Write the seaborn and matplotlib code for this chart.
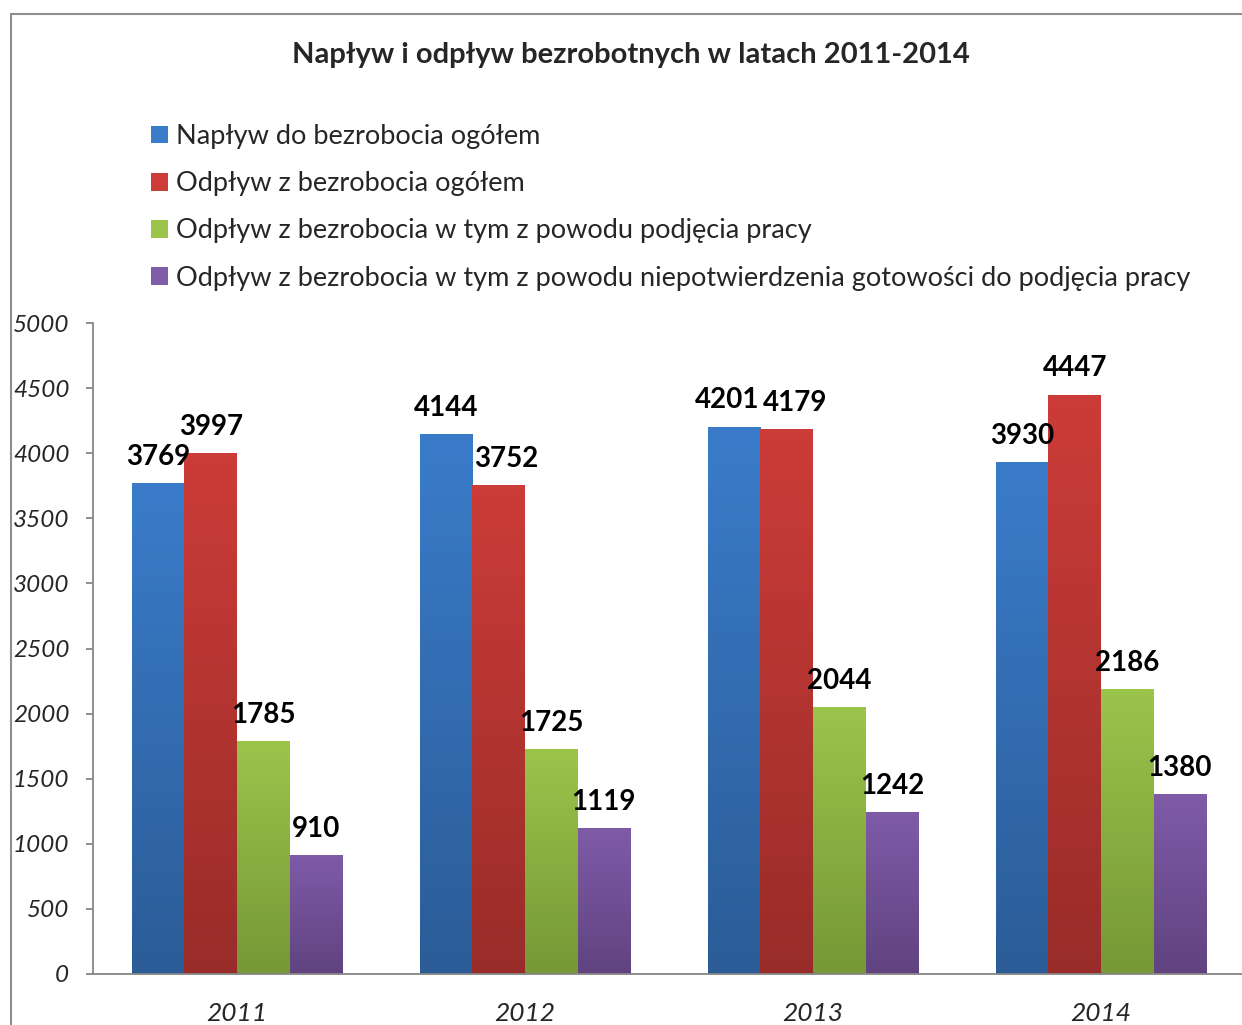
import numpy as np
import pandas as pd
import matplotlib.pyplot as plt
import seaborn as sns
from matplotlib.patches import Patch, Rectangle
from matplotlib.colors import to_rgb

years = ["2011", "2012", "2013", "2014"]
series = [
    "Napływ do bezrobocia ogółem",
    "Odpływ z bezrobocia ogółem",
    "Odpływ z bezrobocia w tym z powodu podjęcia pracy",
    "Odpływ z bezrobocia w tym z powodu niepotwierdzenia gotowości do podjęcia pracy",
]
naplyw = [3769, 4144, 4201, 3930]
odplyw = [3997, 3752, 4179, 4447]
praca = [1785, 1725, 2044, 2186]
niepotwierdzenie = [910, 1119, 1242, 1380]
y_ticks = [0, 500, 1000, 1500, 2000, 2500, 3000, 3500, 4000, 4500, 5000]
title = "Napływ i odpływ bezrobotnych w latach 2011-2014"

# gradient colours (top -> bottom), Excel style
top_colors = ["#3A7CCA", "#CC3C38", "#9BC44B", "#7F5BA8"]
bottom_colors = ["#2B5C97", "#992C29", "#769836", "#604380"]

df = pd.DataFrame({
    "rok": years * 4,
    "seria": np.repeat(series, len(years)),
    "wartosc": naplyw + odplyw + praca + niepotwierdzenie,
})

sns.set_theme(style="white")
plt.rcParams["font.family"] = ["Lato", "DejaVu Sans"]

W, H = 1242, 1025
fig = plt.figure(figsize=(W / 100, H / 100), dpi=100)
ax = fig.add_axes([93 / W, 51 / H, 1152 / W, 651 / H])

sns.barplot(
    data=df, x="rok", y="wartosc", hue="seria", hue_order=series,
    palette=top_colors, width=0.73, gap=0, saturation=1, legend=False, ax=ax,
)

# small horizontal nudges (pixels) for overlapping labels
nudges = {(1, 1): 8, (0, 2): -7, (1, 2): 8}

for i, container in enumerate(ax.containers):
    c0 = np.array(to_rgb(top_colors[i]))
    c1 = np.array(to_rgb(bottom_colors[i]))
    grad = np.linspace(0, 1, 256)[:, None, None]
    img = c0 * (1 - grad) + c1 * grad
    for j, bar in enumerate(container):
        x, w, h = bar.get_x(), bar.get_width(), bar.get_height()
        ax.imshow(img, extent=[x, x + w, 0, h], aspect="auto", origin="upper",
                  zorder=bar.get_zorder() + 0.1, interpolation="bilinear")
        dx = nudges.get((i, j), 0) * 0.72
        ax.annotate(f"{int(h)}", (x + w / 2, h), xytext=(dx, 13.5),
                    textcoords="offset points", ha="center", va="baseline",
                    fontsize=20, fontweight="bold", color="black", zorder=5)

ax.set_xlim(-0.5, 3.5)
ax.set_ylim(0, 5000)
ax.set_yticks(y_ticks)
ax.set_yticklabels([str(t) for t in y_ticks], fontstyle="italic", fontsize=17.5)
ax.set_xticks(range(len(years)))
ax.set_xticklabels(years, fontstyle="italic", fontsize=19)
ax.set_xlabel("")
ax.set_ylabel("")
ax.grid(False)
for side in ["top", "right"]:
    ax.spines[side].set_visible(False)
for side in ["left", "bottom"]:
    ax.spines[side].set_color("#868686")
    ax.spines[side].set_linewidth(1.3)
ax.tick_params(axis="y", length=5, width=1.3, color="#868686", pad=12, direction="out", left=True)
ax.tick_params(axis="x", length=0, pad=20)

fig.text(631 / W, 1 - 55 / H, title, ha="center", va="center",
         fontsize=21, fontweight="bold")

handles = [Patch(facecolor=c, edgecolor="none") for c in top_colors]
fig.legend(handles, series, loc="upper left", bbox_to_anchor=(151 / W, 1 - 124 / H),
           frameon=False, fontsize=19.5, handlelength=0.63, handleheight=0.63,
           handletextpad=0.28, labelspacing=0.82, borderpad=0, borderaxespad=0)

# outer chart frame
fig.add_artist(Rectangle((10.5 / W, -0.1), 1.2, 1.1 - 14 / H, transform=fig.transFigure,
                         fill=False, edgecolor="#8E8E8E", linewidth=1.5))

fig.savefig("out.png", dpi=100)
